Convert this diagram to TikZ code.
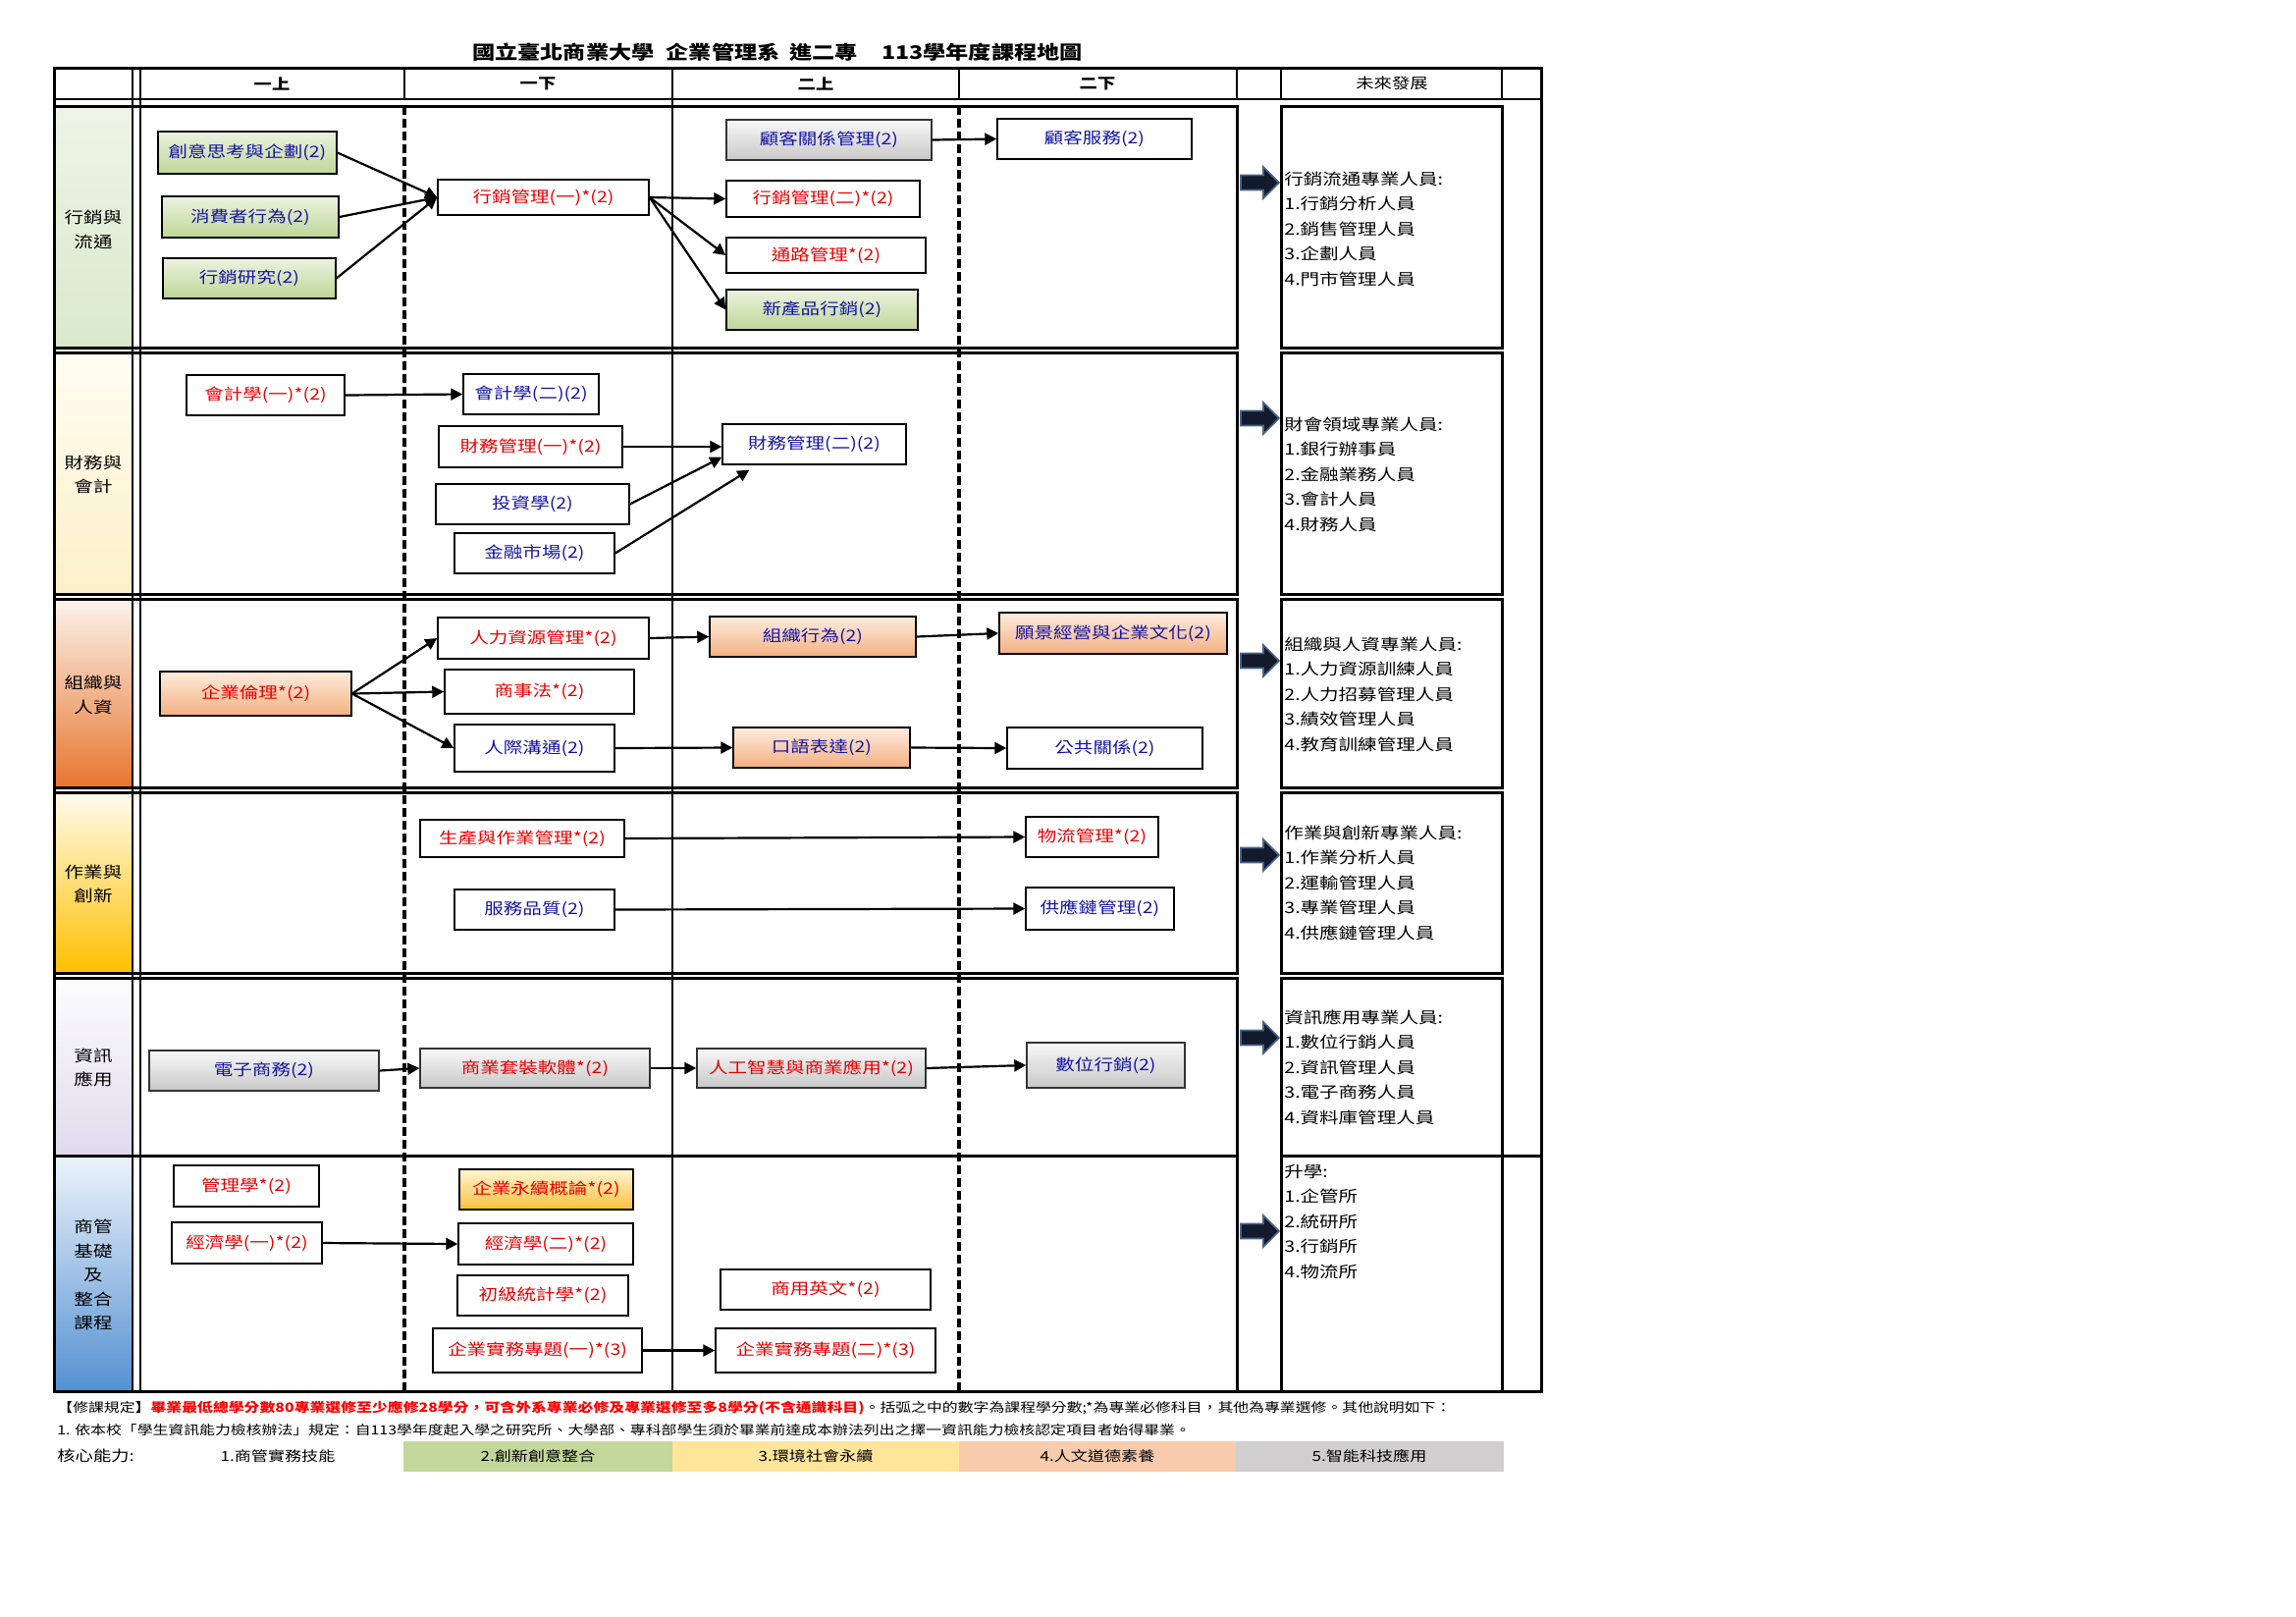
\documentclass[tikz,border=0pt]{standalone}
\usepackage{fontspec}
\setmainfont[FakeStretch=1.22]{Noto Sans CJK TC}
\usetikzlibrary{arrows.meta,calc}

\definecolor{txtred}{RGB}{232,0,0}
\definecolor{txtblue}{RGB}{20,20,165}
\definecolor{gnTop}{RGB}{236,242,224}
\definecolor{gnBot}{RGB}{190,214,150}
\definecolor{gyTop}{RGB}{248,248,248}
\definecolor{gyBot}{RGB}{200,200,200}
\definecolor{orTop}{RGB}{253,236,222}
\definecolor{orBot}{RGB}{243,176,128}
\definecolor{ylTop}{RGB}{255,245,210}
\definecolor{ylBot}{RGB}{250,192,60}
\definecolor{lAt}{RGB}{238,244,230}\definecolor{lAb}{RGB}{218,233,204}
\definecolor{lBt}{RGB}{255,253,242}\definecolor{lBb}{RGB}{252,240,200}
\definecolor{lCt}{RGB}{252,242,234}\definecolor{lCb}{RGB}{232,118,48}
\definecolor{lDt}{RGB}{255,251,236}\definecolor{lDb}{RGB}{255,192,0}
\definecolor{lEt}{RGB}{252,252,253}\definecolor{lEb}{RGB}{224,219,236}
\definecolor{lFt}{RGB}{236,243,250}\definecolor{lFb}{RGB}{84,145,210}
\definecolor{cGreen}{RGB}{196,215,155}
\definecolor{cYellow}{RGB}{255,229,153}
\definecolor{cPeach}{RGB}{248,203,173}
\definecolor{cGray}{RGB}{208,206,206}
\definecolor{arFill}{RGB}{18,26,44}
\definecolor{arEdge}{RGB}{70,100,140}

\newcommand\coursebox[7]{%
  \pgfmathsetmacro\cbX{(#3+#5)/2}\pgfmathsetmacro\cbY{(#4+#6)/2}%
  \pgfmathsetmacro\cbW{(#5-#3)*0.5}\pgfmathsetmacro\cbH{(#6-#4)*0.5}%
  \node[cbox,#2,minimum width=\cbW pt,minimum height=\cbH pt] (#1) at (\cbX,\cbY) {#7};}

\begin{document}
\begin{tikzpicture}[x=0.5pt,y=-0.5pt,
  cbox/.style={draw=black,line width=0.7pt,inner sep=0pt,font=\fontsize{8}{9}\selectfont},
  wht/.style={fill=white},
  grn/.style={top color=gnTop,bottom color=gnBot},
  gry/.style={top color=gyTop,bottom color=gyBot,draw=black!80},
  org/.style={top color=orTop,bottom color=orBot},
  ylw/.style={top color=ylTop,bottom color=ylBot},
  rtx/.style={text=txtred},
  btx/.style={text=txtblue},
  arr/.style={-{Triangle[length=6pt,width=6pt]},line width=1.1pt},
  frame/.style={line width=1.5pt},
  thin/.style={line width=1pt},
  dsh/.style={line width=1.8pt,dash pattern=on 4.5pt off 2pt},
  lbl/.style={align=center,font=\fontsize{8}{12.25}\selectfont},
  hdr/.style={font=\bfseries\fontsize{7.5}{8}\selectfont},
  futtext/.style={anchor=west,inner sep=0pt,font=\fontsize{8}{9}\selectfont},
  bigarrow/.style={fill=arFill,draw=arEdge,line width=0.8pt,line join=miter},
  foot/.style={anchor=west,inner sep=0pt,font=\fontsize{6.5}{7}\selectfont},
  corelbl/.style={font=\fontsize{7}{8}\selectfont}
]
\useasboundingbox (0,0) rectangle (2339,1646);

% title
\node[font=\bfseries\fontsize{9.5}{10}\selectfont] (title) at (792,53)
  {國立臺北商業大學\hspace{6pt}企業管理系\hspace{5pt}進二專\hspace{12pt}113學年度課程地圖};

% label column fills
\shade[top color=lAt,bottom color=lAb] (56.5,109.5) rectangle (134,352.5);
\shade[top color=lBt,bottom color=lBb] (56.5,360.5) rectangle (134,603.5);
\shade[top color=lCt,bottom color=lCb] (56.5,611.5) rectangle (134,800.5);
\shade[top color=lDt,bottom color=lDb] (56.5,808.5) rectangle (134,989.5);
\shade[top color=lEt,bottom color=lEb] (56.5,997.5) rectangle (134,1175.5);
\shade[top color=lFt,bottom color=lFb] (56.5,1178.5) rectangle (134,1415.5);

% header lines
\foreach \xx in {135,143,412,685,977,1260,1305,1530}
  \draw[thin] (\xx,69) -- (\xx,101);
\draw[thin] (55,101) -- (1570,101);
% body verticals
\draw[thin] (135,101) -- (135,1417);
\draw[thin] (143,101) -- (143,1417);
\draw[thin] (685,101) -- (685,1417);
\draw[dsh] (412,108) -- (412,1417);
\draw[dsh] (977,108) -- (977,1417);
% row frames
\foreach \ta/\tb in {108/354,359/605,610/802,807/991,996/1177,1177/1417}{
  \draw[frame] (55,\ta) rectangle (1260,\tb);
  \draw[frame] (1305,\ta) rectangle (1530,\tb);
}
\draw[frame] (1530,1177) -- (1570,1177);
\draw[frame] (55,69) rectangle (1570,1417);

% header texts
\node[hdr] (h1) at (277,85) {一上};
\node[hdr] (h2) at (548,85) {一下};
\node[hdr] (h3) at (831,85) {二上};
\node[hdr] (h4) at (1118,85) {二下};
\node[font=\fontsize{7.5}{8}\selectfont] (h5) at (1418,85) {未來發展};

% row labels
\node[lbl] (l1) at (95,234) {行銷與\\流通};
\node[lbl] (l2) at (95,483.5) {財務與\\會計};
\node[lbl] (l3) at (95,708) {組織與\\人資};
\node[lbl] (l4) at (95,900.5) {作業與\\創新};
\node[lbl] (l5) at (95,1087.5) {資訊\\應用};
\node[lbl] (l6) at (95,1298.5) {商管\\基礎\\及\\整合\\課程};

% ---- row 1
\coursebox{n1a}{grn,btx}{161}{134}{343}{177}{創意思考與企劃(2)}
\coursebox{n1b}{grn,btx}{165}{200}{345}{242}{消費者行為(2)}
\coursebox{n1c}{grn,btx}{166}{263}{342}{304}{行銷研究(2)}
\coursebox{n1d}{wht,rtx}{446}{183}{661}{219}{行銷管理(一)*(2)}
\coursebox{n1e}{gry,btx}{740}{122}{949}{163}{顧客關係管理(2)}
\coursebox{n1f}{wht,rtx}{740}{184}{937}{221}{行銷管理(二)*(2)}
\coursebox{n1g}{wht,rtx}{740}{242}{943}{278}{通路管理*(2)}
\coursebox{n1h}{grn,btx}{740}{295}{935}{336}{新產品行銷(2)}
\coursebox{n1i}{wht,btx}{1016}{121}{1214}{162}{顧客服務(2)}
\draw[arr] (n1a.east) -- (n1d.west);
\draw[arr] (n1b.east) -- (n1d.west);
\draw[arr] (n1c.east) -- (n1d.west);
\draw[arr] (n1d.east) -- (n1f.west);
\draw[arr] (n1d.east) -- (n1g.west);
\draw[arr] (n1d.east) -- (n1h.west);
\draw[arr] (n1e.east) -- (n1i.west);

% ---- row 2
\coursebox{n2a}{wht,rtx}{190}{382}{351}{423}{會計學(一)*(2)}
\coursebox{n2b}{wht,btx}{472}{381}{610}{422}{會計學(二)(2)}
\coursebox{n2c}{wht,rtx}{447}{434}{634}{476}{財務管理(一)*(2)}
\coursebox{n2d}{wht,btx}{736}{432}{923}{473}{財務管理(二)(2)}
\coursebox{n2e}{wht,btx}{444}{493}{641}{534}{投資學(2)}
\coursebox{n2f}{wht,btx}{463}{543}{626}{584}{金融市場(2)}
\draw[arr] (n2a.east) -- (n2b.west);
\draw[arr] (n2c.east) -- (n2c.east -| n2d.west);
\draw[arr] (n2e.east) -- ($(n2d.south west)+(0,-8)$);
\draw[arr] (n2f.east) -- ($(n2d.south west)+(28,5)$);

% ---- row 3
\coursebox{n3a}{org,rtx}{163}{684}{358}{729}{企業倫理*(2)}
\coursebox{n3b}{wht,rtx}{446}{629}{661}{671}{人力資源管理*(2)}
\coursebox{n3c}{wht,rtx}{453}{682}{646}{727}{商事法*(2)}
\coursebox{n3d}{wht,btx}{463}{738}{626}{786}{人際溝通(2)}
\coursebox{n3e}{org,btx}{723}{628}{933}{669}{組織行為(2)}
\coursebox{n3f}{org,btx}{747}{741}{927}{782}{口語表達(2)}
\coursebox{n3g}{org,btx}{1018}{624}{1250}{666}{願景經營與企業文化(2)}
\coursebox{n3h}{wht,btx}{1026}{741}{1225}{783}{公共關係(2)}
\draw[arr] (n3a.east) -- (n3b.west);
\draw[arr] (n3a.east) -- (n3c.west);
\draw[arr] (n3a.east) -- (n3d.west);
\draw[arr] (n3b.east) -- (n3e.west);
\draw[arr] (n3e.east) -- (n3g.west);
\draw[arr] (n3d.east) -- (n3f.west);
\draw[arr] (n3f.east) -- (n3h.west);

% ---- row 4
\coursebox{n4a}{wht,rtx}{428}{835}{636}{873}{生產與作業管理*(2)}
\coursebox{n4b}{wht,btx}{463}{906}{626}{947}{服務品質(2)}
\coursebox{n4c}{wht,rtx}{1045}{832}{1180}{873}{物流管理*(2)}
\coursebox{n4d}{wht,btx}{1045}{904}{1196}{947}{供應鏈管理(2)}
\draw[arr] (n4a.east) -- (n4c.west);
\draw[arr] (n4b.east) -- (n4d.west);

% ---- row 5
\coursebox{n5a}{gry,btx}{152}{1070}{386}{1111}{電子商務(2)}
\coursebox{n5b}{gry,rtx}{428}{1068}{662}{1108}{商業套裝軟體*(2)}
\coursebox{n5c}{gry,rtx}{710}{1068}{943}{1108}{人工智慧與商業應用*(2)}
\coursebox{n5d}{gry,btx}{1046}{1062}{1207}{1108}{數位行銷(2)}
\draw[arr] (n5a.east) -- (n5b.west);
\draw[arr] (n5b.east) -- (n5c.west);
\draw[arr] (n5c.east) -- (n5d.west);

% ---- row 6
\coursebox{n6a}{wht,rtx}{177}{1187}{325}{1229}{管理學*(2)}
\coursebox{n6b}{wht,rtx}{175}{1245}{328}{1287}{經濟學(一)*(2)}
\coursebox{n6c}{ylw,rtx}{468}{1191}{645}{1232}{企業永續概論*(2)}
\coursebox{n6d}{wht,rtx}{467}{1246}{645}{1288}{經濟學(二)*(2)}
\coursebox{n6e}{wht,rtx}{466}{1299}{640}{1340}{初級統計學*(2)}
\coursebox{n6f}{wht,rtx}{734}{1293}{948}{1334}{商用英文*(2)}
\coursebox{n6g}{wht,rtx}{441}{1353}{654}{1398}{企業實務專題(一)*(3)}
\coursebox{n6h}{wht,rtx}{729}{1353}{953}{1398}{企業實務專題(二)*(3)}
\draw[arr] (n6b.east) -- (n6d.west);
\draw[arr] (n6g.east) -- (n6h.west);

% ---- big arrows
\foreach \c in {186,426,673,871,1057,1254}
  \draw[bigarrow] (1264,\c-7.5) -- (1287,\c-7.5) -- (1287,\c-16) -- (1303,\c)
     -- (1287,\c+16) -- (1287,\c+7.5) -- (1264,\c+7.5) -- cycle;

% ---- future column
\foreach \t [count=\i] in {行銷流通專業人員:,1.行銷分析人員,2.銷售管理人員,3.企劃人員,4.門市管理人員}
  \node[futtext] (fa\i) at (1308,182+25.6*\i-25.6) {\t};
\foreach \t [count=\i] in {財會領域專業人員:,1.銀行辦事員,2.金融業務人員,3.會計人員,4.財務人員}
  \node[futtext] (fb\i) at (1308,432+25.6*\i-25.6) {\t};
\foreach \t [count=\i] in {組織與人資專業人員:,1.人力資源訓練人員,2.人力招募管理人員,3.績效管理人員,4.教育訓練管理人員}
  \node[futtext] (fc\i) at (1308,656+25.6*\i-25.6) {\t};
\foreach \t [count=\i] in {作業與創新專業人員:,1.作業分析人員,2.運輸管理人員,3.專業管理人員,4.供應鏈管理人員}
  \node[futtext] (fd\i) at (1308,848+25.6*\i-25.6) {\t};
\foreach \t [count=\i] in {資訊應用專業人員:,1.數位行銷人員,2.資訊管理人員,3.電子商務人員,4.資料庫管理人員}
  \node[futtext] (fe\i) at (1308,1036+25.6*\i-25.6) {\t};
\foreach \t [count=\i] in {升學:,1.企管所,2.統研所,3.行銷所,4.物流所}
  \node[futtext] (ff\i) at (1308,1193+25.6*\i-25.6) {\t};

% ---- footer
\node[foot] (ft1) at (58,1434) {【修課規定】{\bfseries\color{red}畢業最低總學分數80專業選修至少應修28學分，可含外系專業必修及專業選修至多8學分(不含通識科目)}。括弧之中的數字為課程學分數;*為專業必修科目，其他為專業選修。其他說明如下：};
\node[foot] (ft2) at (58,1457) {1. 依本校「學生資訊能力檢核辦法」規定：自113學年度起入學之研究所、大學部、專科部學生須於畢業前達成本辦法列出之擇一資訊能力檢核認定項目者始得畢業。};
\node[anchor=west,inner sep=0pt,font=\fontsize{7.5}{8}\selectfont] (core) at (58,1483) {核心能力:};
\fill[cGreen] (411,1468) rectangle (685,1499);
\fill[cYellow] (685,1468) rectangle (977,1499);
\fill[cPeach] (977,1468) rectangle (1259,1499);
\fill[cGray] (1259,1468) rectangle (1532,1499);
\node[corelbl] (c1) at (283,1483) {1.商管實務技能};
\node[corelbl] (c2) at (548,1483) {2.創新創意整合};
\node[corelbl] (c3) at (831,1483) {3.環境社會永續};
\node[corelbl] (c4) at (1118,1483) {4.人文道德素養};
\node[corelbl] (c5) at (1395,1483) {5.智能科技應用};
\end{tikzpicture}
\end{document}
